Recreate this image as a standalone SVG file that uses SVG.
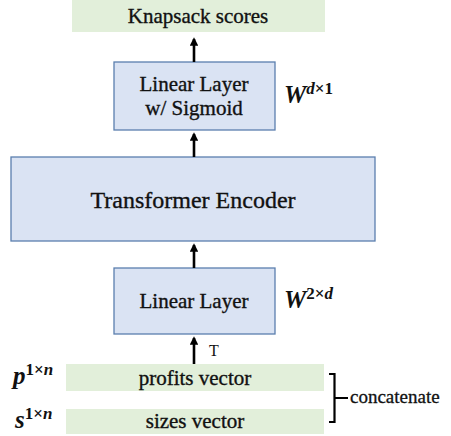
<svg xmlns="http://www.w3.org/2000/svg" width="451" height="436" viewBox="0 0 451 436">
<defs>
<marker id="ah" viewBox="0 0 10 10" refX="8" refY="5" markerWidth="3.2" markerHeight="3.2" orient="auto">
<path d="M0,0 L10,5 L0,10 z" fill="#000"/>
</marker>
<style>
.blue{fill:#dae3f3;stroke:#5b7fae;stroke-width:1.3}
.green{fill:#e2efda;stroke:none}
.t{font-family:"Liberation Serif","DejaVu Serif",serif;fill:#111;stroke:#111;stroke-width:0.35;text-anchor:middle}
.m{font-family:"Liberation Serif","DejaVu Serif",serif;font-weight:bold;font-style:italic;fill:#111}
.u{font-style:normal}
.c{stroke:#000;stroke-width:2.6;fill:none}
</style>
</defs>
<g id="knapsack-scores">
<rect class="green" x="72" y="0" width="253" height="32"/>
<text class="t" x="198" y="23" font-size="21">Knapsack scores</text>
</g>
<g id="linear-sigmoid">
<rect class="blue" x="114" y="62" width="161" height="68"/>
<text class="t" x="194" y="91" font-size="21">Linear Layer</text>
<text class="t" x="194" y="115" font-size="21">w/ Sigmoid</text>
<text class="m" x="284" y="103" font-size="25">W<tspan font-size="17" dy="-9">d<tspan class="u">×1</tspan></tspan></text>
</g>
<g id="transformer">
<rect class="blue" x="11" y="157" width="364" height="84"/>
<text class="t" x="193" y="208" font-size="24">Transformer Encoder</text>
</g>
<g id="linear-layer">
<rect class="blue" x="114" y="268" width="161" height="66"/>
<text class="t" x="194" y="308" font-size="21">Linear Layer</text>
<text class="m" x="284" y="308" font-size="25">W<tspan font-size="17" dy="-9"><tspan class="u">2×</tspan>d</tspan></text>
</g>
<g id="profits">
<rect class="green" x="66" y="364" width="258" height="27"/>
<text class="t" x="195" y="385" font-size="21">profits vector</text>
<text class="m" x="13" y="384" font-size="25">p<tspan font-size="17" dy="-9"><tspan class="u">1×</tspan>n</tspan></text>
</g>
<g id="sizes">
<rect class="green" x="66" y="409" width="258" height="25"/>
<text class="t" x="195" y="428" font-size="21">sizes vector</text>
<text class="m" x="15" y="428" font-size="25">s<tspan font-size="17" dy="-9"><tspan class="u">1×</tspan>n</tspan></text>
</g>
<g id="concatenate">
<path d="M329,374 L334.5,374 L334.5,422 L329,422 M334.5,398 L348,398" stroke="#000" stroke-width="2.2" fill="none"/>
<text x="350" y="403" font-size="19" font-family="Liberation Serif, DejaVu Serif, serif" fill="#111" stroke="#111" stroke-width="0.3">concatenate</text>
</g>
<g id="connectors">
<line class="c" x1="194" y1="62" x2="194" y2="39" marker-end="url(#ah)"/>
<line class="c" x1="194" y1="157" x2="194" y2="134" marker-end="url(#ah)"/>
<line class="c" x1="194" y1="268" x2="194" y2="245" marker-end="url(#ah)"/>
<line class="c" x1="194" y1="364" x2="194" y2="338" marker-end="url(#ah)"/>
<text x="209" y="356" font-size="16" font-family="Liberation Serif, DejaVu Serif, serif" fill="#111">T</text>
</g>
</svg>
